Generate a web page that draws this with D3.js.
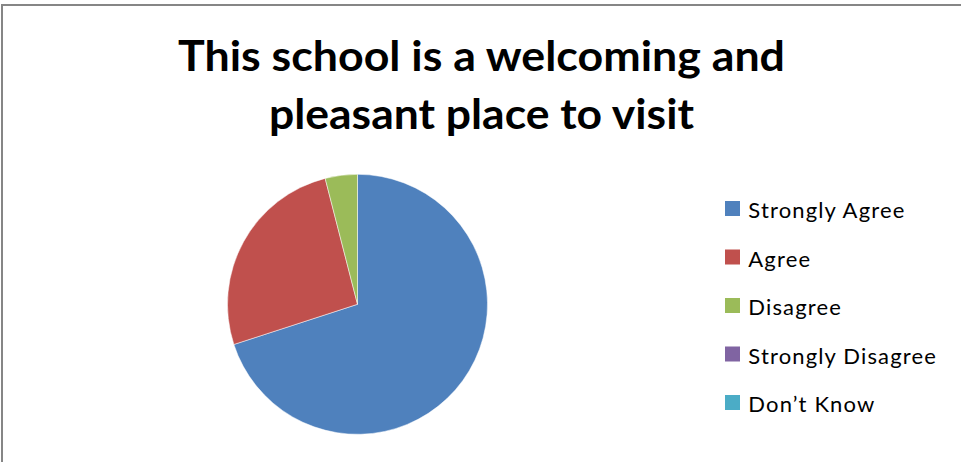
<!DOCTYPE html>
<html>
<head>
<meta charset="utf-8">
<script src="https://cdn.jsdelivr.net/npm/d3@7"></script>
<style>
  html, body { margin: 0; padding: 0; background: #fff; }
  svg { display: block; }
</style>
</head>
<body>
<svg id="chart" width="961" height="462"></svg>
<script>
const categories = ["Strongly Agree", "Agree", "Disagree", "Strongly Disagree", "Don\u2019t Know"];
const values = [70, 26, 4, 0, 0];
const colors = ["#4F81BD", "#C0504D", "#9BBB59", "#8064A2", "#4BACC6"];
const titleLines = ["This school is a welcoming and", "pleasant place to visit"];

const svg = d3.select("#chart");
const W = 961, H = 462;

svg.append("rect").attr("width", W).attr("height", H).attr("fill", "#fff");
svg.append("rect")
  .attr("x", 2).attr("y", 5).attr("width", W + 10).attr("height", H + 10)
  .attr("fill", "none").attr("stroke", "#868686").attr("stroke-width", 2);

const titleWidths = [607, 425];
const titleBase = [70.7, 129.3];
const title = svg.append("g")
  .attr("font-family", "Lato, 'Open Sans', sans-serif")
  .attr("font-weight", "bold")
  .attr("font-size", 42)
  .attr("fill", "#000");
titleLines.forEach((t, i) => {
  title.append("text")
    .attr("x", 481.5 - titleWidths[i] / 2).attr("y", titleBase[i])
    .attr("textLength", titleWidths[i]).attr("lengthAdjust", "spacingAndGlyphs")
    .text(t);
});

const data = categories.map((c, i) => ({ cat: c, value: values[i] }));
const color = d3.scaleOrdinal().domain(categories).range(colors);
const pie = d3.pie().value(d => d.value).sort(null);
const arc = d3.arc().innerRadius(0).outerRadius(130);

const g = svg.append("g").attr("transform", "translate(357.5,304.3)");
g.selectAll("path").data(pie(data).filter(d => d.data.value > 0)).join("path")
  .attr("d", arc)
  .attr("fill", d => color(d.data.cat))
  .attr("stroke", "#fff").attr("stroke-width", 0.5);

const y = d3.scalePoint().domain(categories).range([208.5, 402.5]);
const leg = svg.append("g");
const items = leg.selectAll("g").data(categories).join("g")
  .attr("transform", d => `translate(725,${y(d)})`);
items.append("rect").attr("x", 0).attr("y", -7.5).attr("width", 15).attr("height", 15)
  .attr("fill", d => color(d));
items.append("text").attr("x", 23.3).attr("y", 9.8)
  .attr("font-family", "Lato, 'Open Sans', sans-serif")
  .attr("font-size", 22).attr("letter-spacing", 1.15).attr("fill", "#000")
  .text(d => d);
</script>
</body>
</html>
